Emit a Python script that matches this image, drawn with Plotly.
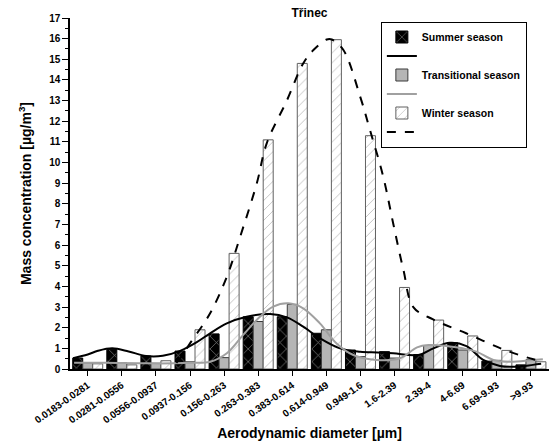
import plotly.graph_objects as go

labels = ["0.0183-0.0281", "0.0281-0.0556", "0.0556-0.0937", "0.0937-0.156",
          "0.156-0.263", "0.263-0.383", "0.383-0.614", "0.614-0.949",
          "0.949-1.6", "1.6-2.39", "2.39-4", "4-6.69", "6.69-9.93", ">9.93"]
positions = list(range(len(labels)))

summer = [0.53, 0.95, 0.63, 0.87, 1.7, 2.53, 2.53, 1.73, 0.92, 0.84, 0.7, 1.27, 0.38, 0.2]
transitional = [0.3, 0.3, 0.28, 0.35, 0.55, 2.3, 3.13, 1.9, 0.6, 0.53, 1.14, 0.92, 0.42, 0.45]
winter = [0.25, 0.2, 0.4, 1.9, 5.6, 11.1, 14.8, 15.95, 11.3, 3.95, 2.37, 1.6, 0.9, 0.35]

# fitted curves (position on category axis, concentration)
summer_fit_x = [-0.43, 0.0, 0.3, 0.72, 1.2, 1.71, 2.2, 2.71, 3.2, 3.59, 4.08, 4.66, 5.35,
                5.84, 6.32, 6.81, 7.4, 7.99, 8.5, 8.96, 9.7, 10.14, 10.62, 11.11, 11.6,
                12.09, 12.58, 13.06, 13.3]
summer_fit_y = [0.52, 0.7, 0.88, 1.0, 0.85, 0.63, 0.64, 0.88, 1.3, 1.73, 2.21, 2.53, 2.66,
                2.5, 2.05, 1.49, 1.0, 0.84, 0.8, 0.76, 0.68, 1.0, 1.27, 1.11, 0.44,
                0.15, 0.11, 0.2, 0.25]

trans_fit_x = [-0.4, 0.5, 1.5, 2.13, 3.0, 3.59, 4.08, 4.56, 5.05, 5.44, 5.88, 6.32, 6.81,
               7.3, 7.79, 8.47, 9.16, 9.66, 10.0, 10.5, 11.0, 11.4, 11.9, 12.4, 13.0, 13.35]
trans_fit_y = [0.3, 0.3, 0.28, 0.27, 0.3, 0.35, 0.76, 1.65, 2.53, 3.02, 3.18, 2.94, 2.21,
               1.24, 0.68, 0.44, 0.52, 1.05, 1.16, 1.12, 1.0, 0.84, 0.44, 0.35, 0.42, 0.47]

winter_fit_x = [2.6, 2.71, 3.0, 3.59, 4.08, 4.47, 4.96, 5.25, 5.84, 6.32, 6.62, 7.01, 7.16,
                7.5, 7.99, 8.28, 8.67, 8.96, 9.26, 9.55, 10.13, 11.1, 12.19, 13.07, 13.2]
winter_fit_y = [0.3, 0.52, 1.24, 2.7, 4.47, 6.4, 9.0, 10.93, 13.0, 14.8, 15.45, 15.96, 15.96,
                15.45, 13.2, 11.57, 9.3, 7.05, 4.8, 3.0, 2.4, 1.73, 0.95, 0.47, 0.42]

y_ticks = list(range(0, 18))

BOLD = dict(family="Liberation Sans, Arial, sans-serif", weight="bold", color="black")

fig = go.Figure()

fig.add_trace(go.Bar(
    x=positions, y=summer, name="Summer season",
    marker=dict(color="black", line=dict(color="black", width=1),
                pattern=dict(shape="x", bgcolor="black", fgcolor="white", size=9, solidity=0.15)),
))
fig.add_trace(go.Scatter(
    x=summer_fit_x, y=summer_fit_y, mode="lines", name=" ",
    line=dict(color="black", width=2, shape="spline", smoothing=1.0),
))
fig.add_trace(go.Bar(
    x=positions, y=transitional, name="Transitional season",
    marker=dict(color="#b5b5b5", line=dict(color="#3a3a3a", width=1)),
))
fig.add_trace(go.Scatter(
    x=trans_fit_x, y=trans_fit_y, mode="lines", name=" ",
    line=dict(color="#a0a0a0", width=2, shape="spline", smoothing=1.0),
))
fig.add_trace(go.Bar(
    x=positions, y=winter, name="Winter season",
    marker=dict(color="white", line=dict(color="#606060", width=1),
                pattern=dict(shape="/", bgcolor="white", fgcolor="#8a8a8a", size=7, solidity=0.14)),
))
fig.add_trace(go.Scatter(
    x=winter_fit_x, y=winter_fit_y, mode="lines", name=" ",
    line=dict(color="black", width=2, dash="dash", shape="spline", smoothing=1.0),
))

fig.update_layout(
    width=552, height=447,
    margin=dict(l=70, r=3, t=18, b=78),
    paper_bgcolor="white", plot_bgcolor="white",
    barmode="group", bargap=0.12, bargroupgap=0,
    showlegend=True,
    title=dict(text="Třinec", x=0.5, xref="paper", xanchor="center", y=0.972, yanchor="middle",
               font=dict(size=12, **BOLD)),
    legend=dict(x=0.649, y=0.99, xanchor="left", yanchor="top",
                bordercolor="black", borderwidth=1, bgcolor="white",
                font=dict(size=10.5, **BOLD), tracegroupgap=0, itemwidth=30),
    xaxis=dict(
        range=[-0.52, 13.53], tickmode="array", tickvals=positions, ticktext=labels,
        tickangle=-35, tickfont=dict(size=10, **BOLD),
        ticks="outside", ticklen=5, tickwidth=1, tickcolor="black",
        showline=True, linecolor="black", linewidth=1.5, showgrid=False, zeroline=False,
        title=dict(text="Aerodynamic diameter [µm]", font=dict(size=14, **BOLD), standoff=4),
    ),
    yaxis=dict(
        range=[0, 17], tickmode="array", tickvals=y_ticks,
        tickfont=dict(size=10, **BOLD),
        ticks="outside", ticklen=6, tickwidth=1, tickcolor="black",
        minor=dict(dtick=0.5, ticks="outside", ticklen=3, tickcolor="black", showgrid=False),
        showline=True, linecolor="black", linewidth=1.5, showgrid=False, zeroline=False,
        title=dict(text="Mass concentration [µg/m<sup>3</sup>]", font=dict(size=14, **BOLD), standoff=14),
    ),
)

fig.write_html("out.html")
